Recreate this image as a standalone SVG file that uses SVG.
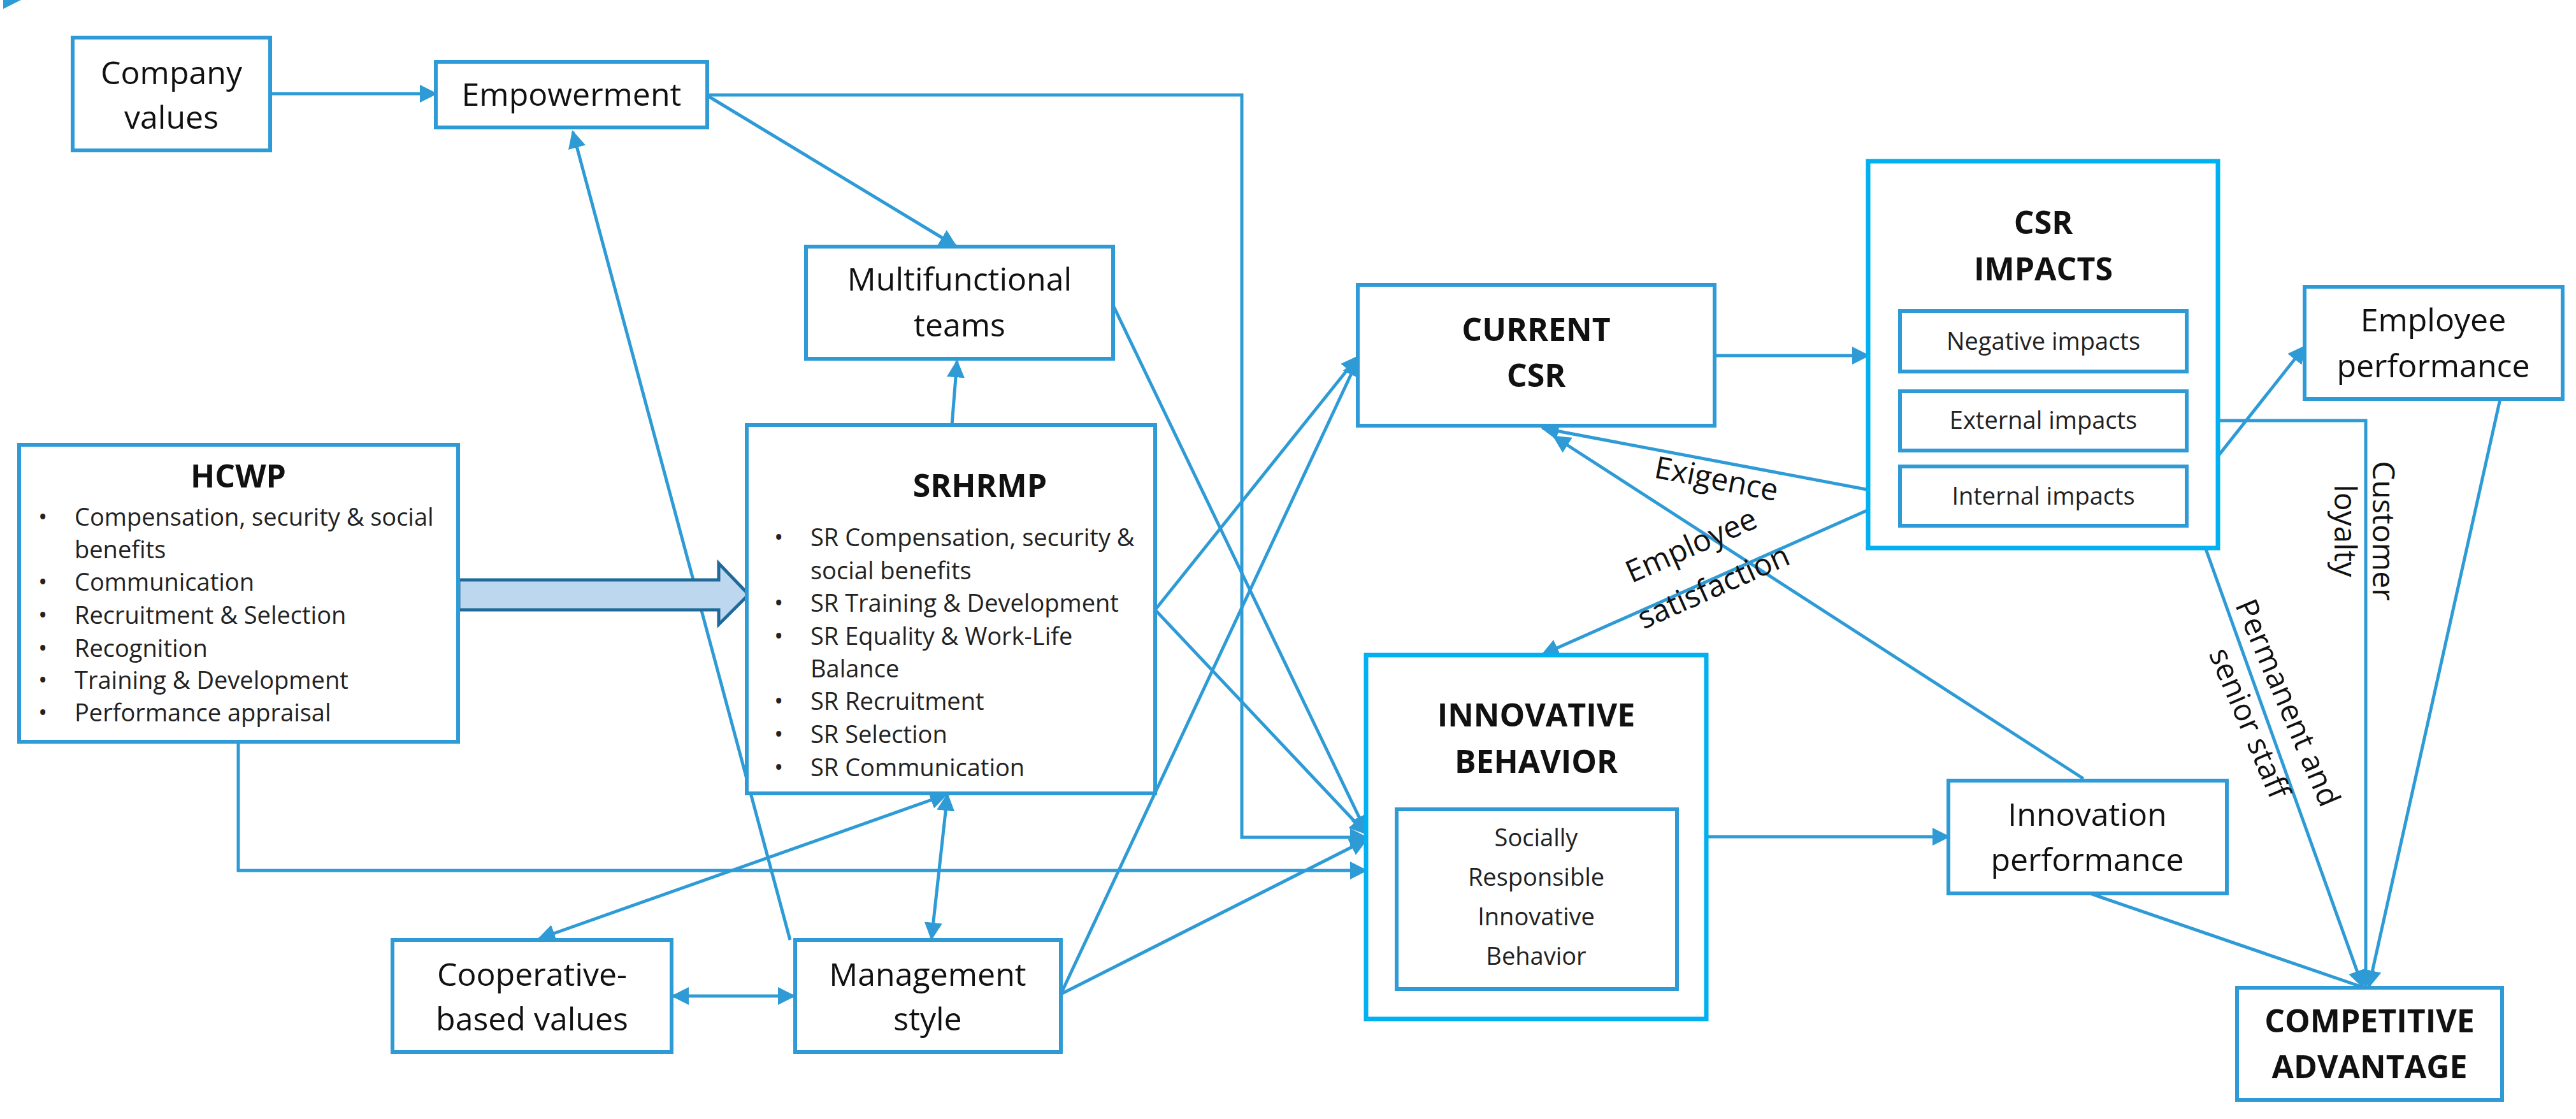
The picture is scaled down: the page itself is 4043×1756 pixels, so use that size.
<svg xmlns="http://www.w3.org/2000/svg" width="4043" height="1756" viewBox="0 0 4043 1756">
<defs>
<marker id="a" viewBox="0 0 10 10" refX="9" refY="5" markerWidth="7" markerHeight="7" markerUnits="userSpaceOnUse" orient="auto-start-reverse"><path d="M0,0L10,5L0,10z" fill="#2E9BD6"/></marker>
<marker id="b" viewBox="0 0 10 10" refX="9" refY="5" markerWidth="28" markerHeight="28" markerUnits="userSpaceOnUse" orient="auto-start-reverse"><path d="M0,0L10,5L0,10z" fill="#2E9BD6"/></marker>
<style>
.n{fill:#fff;stroke:#2E9BD6;stroke-width:6}
.o{fill:#fff;stroke:#00B0F0;stroke-width:7}
.t{font-family:"Open Sans","Noto Sans",sans-serif;font-size:50px;fill:#111;text-anchor:middle}
.bt{font-family:"Open Sans","Noto Sans",sans-serif;font-size:50px;font-weight:bold;fill:#111;text-anchor:middle}
.s{font-family:"Open Sans","Noto Sans",sans-serif;font-size:38px;fill:#222}
.l{font-family:"Open Sans","Noto Sans",sans-serif;font-size:48px;fill:#111;text-anchor:middle}
.c{fill:none;stroke:#2E9BD6;stroke-width:5;marker-end:url(#b)}
.d{fill:none;stroke:#2E9BD6;stroke-width:5}
</style>
</defs>
<g id="connectors">
<path class="c" d="M424,147L684,147"/>
<path class="c" d="M1110,150L1500,386"/>
<path class="c" d="M1110,149L1949,149L1949,1314L2144,1314"/>
<path class="c" d="M1240,1475L899,207"/>
<path class="c" d="M1494,667L1502,567"/>
<path class="c" d="M1747,479L2144,1305"/>
<path class="c" d="M1813,957L2131,560"/>
<path class="c" d="M1813,957L2144,1308"/>
<path class="c" d="M1665,1560L2131,565"/>
<path class="c" d="M1665,1560L2144,1318"/>
<path class="c" d="M30,0" />
<path class="c" d="M374,1164L374,1366L2144,1366"/>
<path class="c" d="M1487,1247L1462,1473" style="marker-start:url(#b)"/>
<path class="c" d="M1485,1247L846,1473" style="marker-start:url(#b)"/>
<path class="c" d="M1056,1563L1246,1563" style="marker-start:url(#b)"/>
<path class="c" d="M2691,558L2932,558"/>
<path class="c" d="M2982,778L2421,672"/>
<path class="c" d="M2982,778L2421,1027"/>
<path class="c" d="M3270,1222L2439,685"/>
<path class="c" d="M3432,778L3617,544"/>
<path class="c" d="M3432,778L3708,1548"/>
<path class="c" d="M3432,660L3713,660L3713,1548"/>
<path class="c" d="M3924,626L3718,1548"/>
<path class="d" d="M3280,1402L3705,1548"/>
<path class="c" d="M2678,1313L3058,1313"/>
<path d="M720,910L1128,910L1128,884L1175,933L1128,980L1128,957L720,957z" fill="#BDD7EE" stroke="#1F6A9A" stroke-width="5"/>
</g>
<g id="company-values"><rect class="n" x="114" y="59" width="310" height="177"/><text class="t" x="269" y="132">Company</text><text class="t" x="269" y="202">values</text></g>
<g id="empowerment"><rect class="n" x="684" y="97" width="426" height="103"/><text class="t" x="897" y="166">Empowerment</text></g>
<g id="multifunctional"><rect class="n" x="1265" y="387" width="482" height="176"/><text class="t" x="1506" y="456">Multifunctional</text><text class="t" x="1506" y="528">teams</text></g>
<g id="hcwp"><rect class="n" x="30" y="698" width="689" height="466"/>
<text class="bt" x="374" y="765">HCWP</text>
<g class="s"><text x="60" y="825">•</text><text x="117" y="825">Compensation, security &amp; social</text><text x="117" y="876">benefits</text>
<text x="60" y="927">•</text><text x="117" y="927">Communication</text>
<text x="60" y="979">•</text><text x="117" y="979">Recruitment &amp; Selection</text>
<text x="60" y="1031">•</text><text x="117" y="1031">Recognition</text>
<text x="60" y="1081">•</text><text x="117" y="1081">Training &amp; Development</text>
<text x="60" y="1132">•</text><text x="117" y="1132">Performance appraisal</text></g></g>
<g id="srhrmp"><rect class="n" x="1172" y="667" width="641" height="578"/>
<text class="bt" x="1538" y="780">SRHRMP</text>
<g class="s"><text x="1215" y="857">•</text><text x="1272" y="857">SR Compensation, security &amp;</text><text x="1272" y="909">social benefits</text>
<text x="1215" y="960">•</text><text x="1272" y="960">SR Training &amp; Development</text>
<text x="1215" y="1012">•</text><text x="1272" y="1012">SR Equality &amp; Work-Life</text><text x="1272" y="1063">Balance</text>
<text x="1215" y="1114">•</text><text x="1272" y="1114">SR Recruitment</text>
<text x="1215" y="1166">•</text><text x="1272" y="1166">SR Selection</text>
<text x="1215" y="1218">•</text><text x="1272" y="1218">SR Communication</text></g></g>
<g id="cooperative"><rect class="n" x="616" y="1475" width="438" height="176"/><text class="t" x="835" y="1547">Cooperative-</text><text class="t" x="835" y="1617">based values</text></g>
<g id="management"><rect class="n" x="1248" y="1475" width="417" height="176"/><text class="t" x="1456" y="1547">Management</text><text class="t" x="1456" y="1617">style</text></g>
<g id="current-csr"><rect class="n" x="2131" y="447" width="560" height="221"/><text class="bt" x="2411" y="535">CURRENT</text><text class="bt" x="2411" y="607">CSR</text></g>
<g id="csr-impacts"><rect class="o" x="2932" y="253" width="549" height="607"/><text class="bt" x="3207" y="367">CSR</text><text class="bt" x="3207" y="440">IMPACTS</text>
<rect class="n" x="2982" y="488" width="450" height="95"/><text class="s" x="3207" y="549" text-anchor="middle">Negative impacts</text>
<rect class="n" x="2982" y="614" width="450" height="93"/><text class="s" x="3207" y="673" text-anchor="middle">External impacts</text>
<rect class="n" x="2982" y="732" width="450" height="93"/><text class="s" x="3207" y="792" text-anchor="middle">Internal impacts</text></g>
<g id="employee-performance"><rect class="n" x="3617" y="450" width="405" height="176"/><text class="t" x="3819" y="520">Employee</text><text class="t" x="3819" y="592">performance</text></g>
<g id="innovative-behavior"><rect class="o" x="2144" y="1028" width="534" height="571"/><text class="bt" x="2411" y="1140">INNOVATIVE</text><text class="bt" x="2411" y="1213">BEHAVIOR</text>
<rect class="n" x="2192" y="1270" width="440" height="282"/>
<g class="s" text-anchor="middle"><text x="2411" y="1328">Socially</text><text x="2411" y="1390">Responsible</text><text x="2411" y="1452">Innovative</text><text x="2411" y="1514">Behavior</text></g></g>
<g id="innovation-performance"><rect class="n" x="3058" y="1225" width="437" height="177"/><text class="t" x="3276" y="1296">Innovation</text><text class="t" x="3276" y="1367">performance</text></g>
<g id="competitive-advantage"><rect class="n" x="3511" y="1550" width="416" height="176"/><text class="bt" x="3719" y="1620">COMPETITIVE</text><text class="bt" x="3719" y="1692">ADVANTAGE</text></g>
<g id="labels">
<text class="l" transform="translate(2694,752) rotate(11)" y="16">Exigence</text>
<text class="l" transform="translate(2665,880) rotate(-24)" y="-10">Employee</text>
<text class="l" transform="translate(2700,945) rotate(-24)" y="-10">satisfaction</text>
<text class="l" transform="translate(3740,833) rotate(90)" y="16">Customer</text>
<text class="l" transform="translate(3680,833) rotate(90)" y="16">loyalty</text>
<text class="l" transform="translate(3590,1103) rotate(67)" y="16">Permanent and</text>
<text class="l" transform="translate(3530,1135) rotate(67)" y="16">senior staff</text>
</g>
</svg>
